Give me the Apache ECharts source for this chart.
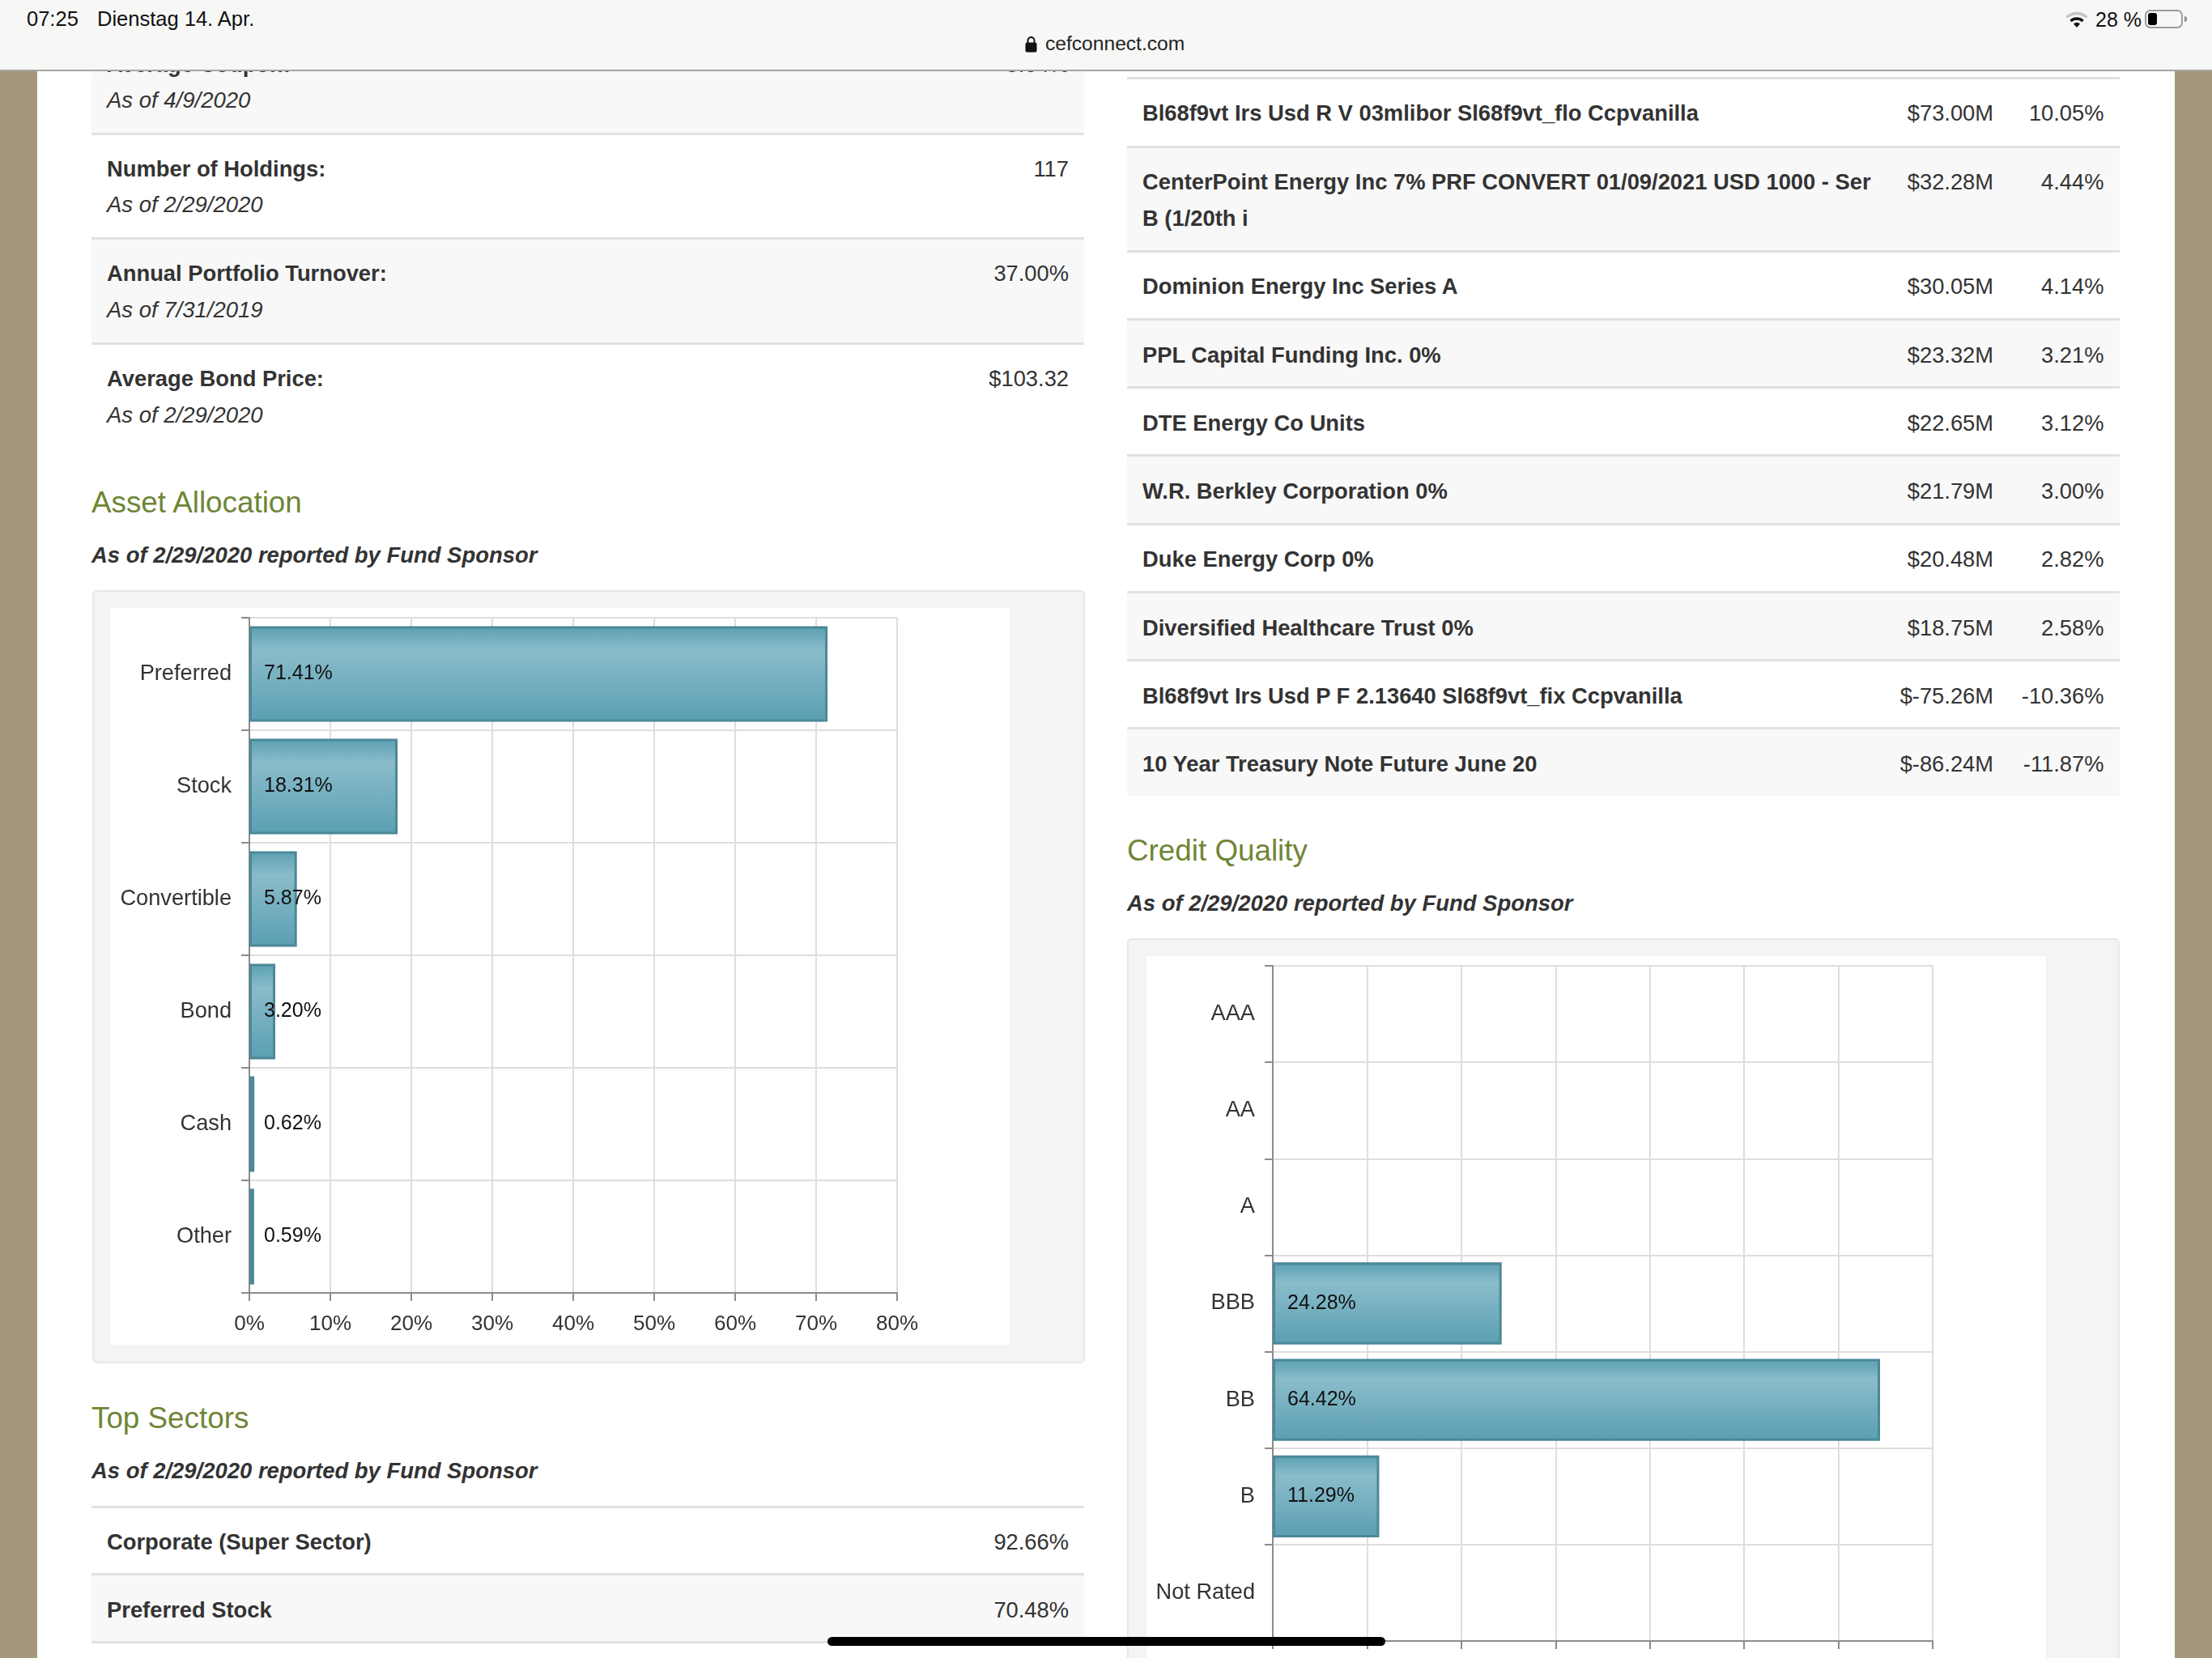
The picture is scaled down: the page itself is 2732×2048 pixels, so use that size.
<!DOCTYPE html>
<html>
<head>
<meta charset="utf-8">
<title>cefconnect.com</title>
<script src="https://cdn.jsdelivr.net/npm/echarts@6/dist/echarts.min.js"></script>
<style>
  html, body { margin: 0; padding: 0; background: #fff; }
  body { position: relative; width: 2732px; height: 2048px; overflow: hidden; font-family: "Liberation Sans", Arial, sans-serif; color: #333; }
  .abs { position: absolute; }
  .txt { position: absolute; white-space: nowrap; line-height: 1; }
  .side { position: absolute; top: 86px; bottom: 0; background: #a6977c; }
  .row { position: absolute; box-sizing: border-box; }
  .panel { position: absolute; box-sizing: border-box; background: #f4f4f4; border: 2px solid #e7e7e7; border-radius: 6px; }
  .chart { position: absolute; background: #fff; }
  #statusbar { position: absolute; left: 0; top: 0; width: 2732px; height: 86px; background: #f7f7f6; border-bottom: 2px solid #a5a5a5; box-sizing: content-box; z-index: 5; }
  #home { position: absolute; left: 1022px; top: 2022px; width: 689px; height: 11px; background: #000; border-radius: 6px; z-index: 5; }
</style>
</head>
<body>
<div class="side" style="left:0;width:46px"></div>
<div class="side" style="left:2686px;width:46px"></div>

<div id="page"></div>

<div class="panel" style="left:114px;top:729px;width:1226px;height:955px"></div>
<div class="chart" id="assetChart" style="left:136px;top:751px;width:1111px;height:910px"></div>

<div class="panel" style="left:1392px;top:1159px;width:1226px;height:1000px"></div>
<div class="chart" id="creditChart" style="left:1416px;top:1181px;width:1111px;height:980px"></div>

<div id="statusbar">
  <div class="txt" style="left:33px;top:11px;font-size:25.5px;color:#111">07:25</div>
  <div class="txt" style="left:120px;top:11px;font-size:25.5px;color:#111">Dienstag 14. Apr.</div>
  <svg class="abs" style="left:1266px;top:44px" width="15" height="21" viewBox="0 0 15 21">
    <path d="M3.5 9V6a4 4 0 0 1 8 0v3" fill="none" stroke="#111" stroke-width="2"/>
    <rect x="0.5" y="8.5" width="14" height="12" rx="2" fill="#111"/>
  </svg>
  <div class="txt" style="left:1291px;top:42px;font-size:24.6px;color:#222">cefconnect.com</div>
  <svg class="abs" style="left:2551px;top:13px" width="28" height="22" viewBox="0 0 28 22">
    <path d="M1.5 8.5a18 18 0 0 1 25 0" fill="none" stroke="#c4c4c4" stroke-width="3.5"/>
    <path d="M6.5 13a11 11 0 0 1 15 0" fill="none" stroke="#111" stroke-width="3.5"/>
    <path d="M14 21l-4-4.6a6 6 0 0 1 8 0z" fill="#111"/>
  </svg>
  <div class="txt" style="left:2588px;top:12px;font-size:25px;color:#111">28 %</div>
  <div class="abs" style="left:2649px;top:12px;width:47px;height:23px;box-sizing:border-box;border:2px solid #9c9c9c;border-radius:7px"></div>
  <div class="abs" style="left:2653px;top:16px;width:11px;height:15px;background:#000;border-radius:3px"></div>
  <div class="abs" style="left:2698px;top:20px;width:3px;height:7px;background:#8e8e8e;border-radius:0 3px 3px 0"></div>
</div>
<div id="home"></div>

<script>
// chart data
var assetCategories = ["Preferred", "Stock", "Convertible", "Bond", "Cash", "Other"];
var assetValues = [71.41, 18.31, 5.87, 3.2, 0.62, 0.59];
var creditCategories = ["AAA", "AA", "A", "BBB", "BB", "B", "Not Rated"];
var creditValues = [null, null, null, 24.28, 64.42, 11.29, null];

// page text
var fundStats = [
  ["Average Coupon:", "As of 4/9/2020", "3.64%", 80, 124],
  ["Number of Holdings:", "As of 2/29/2020", "117", 208.5, 253],
  ["Annual Portfolio Turnover:", "As of 7/31/2019", "37.00%", 338, 383],
  ["Average Bond Price:", "As of 2/29/2020", "$103.32", 468, 513]
];
var holdingNames = [
  "Bl68f9vt Irs Usd R V 03mlibor Sl68f9vt_flo Ccpvanilla",
  "CenterPoint Energy Inc 7% PRF CONVERT 01/09/2021 USD 1000 - Ser",
  "Dominion Energy Inc Series A",
  "PPL Capital Funding Inc. 0%",
  "DTE Energy Co Units",
  "W.R. Berkley Corporation 0%",
  "Duke Energy Corp 0%",
  "Diversified Healthcare Trust 0%",
  "Bl68f9vt Irs Usd P F 2.13640 Sl68f9vt_fix Ccpvanilla",
  "10 Year Treasury Note Future June 20"
];
var holdingAmounts = ["$73.00M", "$32.28M", "$30.05M", "$23.32M", "$22.65M", "$21.79M", "$20.48M", "$18.75M", "$-75.26M", "$-86.24M"];
var holdingWeights = ["10.05%", "4.44%", "4.14%", "3.21%", "3.12%", "3.00%", "2.82%", "2.58%", "-10.36%", "-11.87%"];
var holdingRowTops = [98, 183, 312, 396, 480, 564, 649, 733, 817, 901, 983];
var holdingTextY = [140, 225, 354, 439, 523, 607, 691, 775.5, 860, 944];
var sectorNames = ["Corporate (Super Sector)", "Preferred Stock"];
var sectorWeights = ["92.66%", "70.48%"];

var page = document.getElementById("page");

function addText(text, x, y, size, css, alignRight) {
  var el = document.createElement("div");
  el.className = "txt";
  el.textContent = text;
  el.style.cssText = "top:" + (y - size / 2) + "px;font-size:" + size + "px;" + (css || "") +
    (alignRight ? "right:" + (2732 - x) + "px;" : "left:" + x + "px;");
  page.appendChild(el);
}

function addRow(left, top, width, height, shaded, line) {
  var el = document.createElement("div");
  el.className = "row";
  el.style.cssText = "left:" + left + "px;top:" + top + "px;width:" + width + "px;height:" + height + "px;background:" +
    (shaded ? "#f8f8f8" : "#fff") + ";" + (line ? "border-bottom:3px solid #e1e1e1;" : "");
  page.appendChild(el);
}

// left column, fund stats
addRow(113, 86, 1226, 81, true, true);
addRow(113, 167, 1226, 129, false, true);
addRow(113, 296, 1226, 130, true, true);
fundStats.forEach(function (r) {
  addText(r[0], 132, r[3], 27.35, "font-weight:bold;");
  addText(r[1], 132, r[4], 27.5, "font-style:italic;");
  addText(r[2], 1320, r[3], 27.3, "", true);
});

// headings
addText("Asset Allocation", 113, 621, 36.8, "color:#6f8636;");
addText("As of 2/29/2020 reported by Fund Sponsor", 113, 686, 27.45, "font-weight:bold;font-style:italic;");
addText("Top Sectors", 113, 1752, 36.8, "color:#6f8636;");
addText("As of 2/29/2020 reported by Fund Sponsor", 113, 1816.5, 27.45, "font-weight:bold;font-style:italic;");
addText("Credit Quality", 1392, 1051, 36.8, "color:#6f8636;");
addText("As of 2/29/2020 reported by Fund Sponsor", 1392, 1116, 27.45, "font-weight:bold;font-style:italic;");

// top sectors
addRow(113, 1860, 1226, 3, false, true);
addRow(113, 1863, 1226, 83, false, true);
addRow(113, 1946, 1226, 84, true, true);
sectorNames.forEach(function (name, i) {
  var y = i === 0 ? 1905 : 1989;
  addText(name, 132, y, 27.35, "font-weight:bold;");
  addText(sectorWeights[i], 1320, y, 27.3, "", true);
});

// holdings table
addRow(1392, 94, 1226, 4, false, true);
holdingNames.forEach(function (name, i) {
  var top = holdingRowTops[i], bottom = holdingRowTops[i + 1];
  var y = holdingTextY[i];
  addRow(1392, top, 1226, bottom - top, i % 2 === 1, i < holdingNames.length - 1);
  addText(name, 1411, y, 27.35, "font-weight:bold;");
  if (i === 1) addText("B (1/20th i", 1411, y + 45, 27.35, "font-weight:bold;");
  addText(holdingAmounts[i], 2462, y, 27.3, "", true);
  addText(holdingWeights[i], 2598.5, y, 27.3, "", true);
});

function barOption(categories, values, maxValue, grid) {
  return {
    animation: false,
    textStyle: { fontFamily: "Liberation Sans" },
    grid: grid,
    xAxis: {
      type: "value",
      min: 0,
      max: maxValue,
      interval: 10,
      position: "bottom",
      axisLine: { show: true, onZero: false, lineStyle: { color: "#8c8c8c", width: 2 } },
      axisTick: { show: true, length: 10, lineStyle: { color: "#8c8c8c", width: 2 } },
      axisLabel: { formatter: "{value}%", fontSize: 26, color: "#333", margin: 26 },
      splitLine: { show: true, lineStyle: { color: "#dedede", width: 2 } }
    },
    yAxis: {
      type: "category",
      inverse: true,
      data: categories,
      axisLine: { show: true, onZero: false, lineStyle: { color: "#8c8c8c", width: 2 } },
      axisTick: { show: true, length: 10, lineStyle: { color: "#8c8c8c", width: 2 } },
      axisLabel: { fontSize: 27.2, color: "#333", margin: 22 },
      splitLine: { show: true, lineStyle: { color: "#dedede", width: 2 } }
    },
    series: [
      {
        type: "bar",
        data: values,
        barWidth: "85%",
        itemStyle: {
          borderColor: "#4c8898",
          borderWidth: 3,
          color: new echarts.graphic.LinearGradient(0, 0, 0, 1, [
            { offset: 0, color: "#5a9fb1" },
            { offset: 0.25, color: "#8abccb" },
            { offset: 1, color: "#5a9fb2" }
          ])
        },
        label: {
          show: true,
          position: "insideLeft",
          distance: 18,
          fontSize: 25,
          color: "#111",
          formatter: function (params) {
            return params.value.toFixed(2) + "%";
          }
        }
      }
    ]
  };
}

var assetChart = echarts.init(document.getElementById("assetChart"));
assetChart.setOption(barOption(assetCategories, assetValues, 80, { left: 172, top: 12, width: 800, height: 834 }));

var creditChart = echarts.init(document.getElementById("creditChart"));
creditChart.setOption(barOption(creditCategories, creditValues, 70, { left: 156, top: 12, width: 815, height: 834 }));
</script>
</body>
</html>
